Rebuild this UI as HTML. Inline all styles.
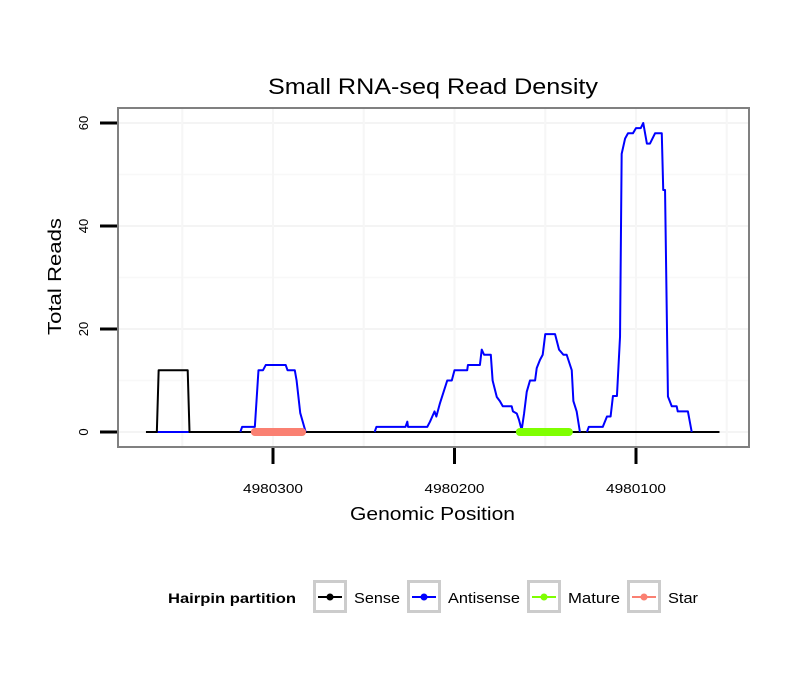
<!DOCTYPE html>
<html><head><meta charset="utf-8"><style>
body{margin:0;background:#fff;}
svg text{font-family:"Liberation Sans",sans-serif;}
</style></head><body>
<svg id="chart" width="810" height="690" viewBox="0 0 810 690">
<text x="268" y="94" font-size="22" textLength="330" lengthAdjust="spacingAndGlyphs">Small RNA-seq Read Density</text>
<g id="grid"></g>
<g id="series"></g>
<rect x="118" y="108" width="631" height="339" fill="none" stroke="#808080" stroke-width="2"/>
<g id="axes"></g>
<text x="350" y="520" font-size="18" textLength="165" lengthAdjust="spacingAndGlyphs">Genomic Position</text>
<text transform="translate(61,335) rotate(-90)" font-size="18" textLength="117" lengthAdjust="spacingAndGlyphs">Total Reads</text>
<g>
<text x="168" y="603" font-size="14" font-weight="bold" textLength="128" lengthAdjust="spacingAndGlyphs">Hairpin partition</text>
<g id="legend-items"></g>
</g>
</svg>
<script>
const BASE = 4980000;
const yTicks = [0, 20, 40, 60];
const xTicks = [4980300, 4980200, 4980100];
const xTickLabels = ["4980300", "4980200", "4980100"];
const senseOffsets = [370, 364, 363, 347, 346, 54];
const senseValues  = [0, 0, 12, 12, 0, 0];
const antiSeg1Offsets = [364, 346];
const antiSeg1Values  = [0, 0];
const antiSeg2Offsets = [318,317,310,308,305.5,304,293,292,288,287,285,282];
const antiSeg2Values  = [0,1,1,12,12,13,13,12,12,10,3.7,0];
const antiSeg3Offsets = [244,243,227,226,225.6,215,213.5,211,210,208,204,201.5,200,193,192.6,186,185,183.7,180,179,176.7,175,173.4,168.5,167.8,165.7,164.5,163,161.7,160.2,158.4,155.6,154.7,152.9,151.4,150,144.6,142.4,140,138.2,135.4,134.5,132.7,130.9];
const antiSeg3Values  = [0,1,1,2,1,1,2,4,3,5.6,10,10,12,12,13,13,16,15,15,10,6.8,6,5,5,4,3.6,2.4,0.4,3.5,7.8,10,10,12.4,14,15,19,19,16,15,15,12,6,4,0];
const antiSeg4Offsets = [127,126,118.3,116,114,112.7,110.5,108.8,107.9,106,104.4,101.7,100,97.4,96,94,92.3,89.5,85.8,85,84,82.4,80.3,77.6,77,71.4,69.3];
const antiSeg4Values  = [0,1,1,3,3,7,7,18.5,54,57,58,58,59,59,60,56,56,58,58,47,47,6.9,5,5,4,4,0];
const matureRange = [164, 137];
const starRange = [310, 284];
const legendLabels = ["Sense","Antisense","Mature","Star"];
const legendColors = ["#000000","#0000ff","#7fff00","#fa8072"];

const NS = "http://www.w3.org/2000/svg";
function xs(pos){ return 273 + (4980300 - pos) * 1.815; }
function ys(v){ return 432 - v * 5.15; }
function mk(tag, attrs, parent){ const e=document.createElementNS(NS,tag); for(const k in attrs) e.setAttribute(k,attrs[k]); parent.appendChild(e); return e; }

const grid = document.getElementById('grid');
for (let i=0;i<yTicks.length;i++){
  const v=yTicks[i];
  const l=mk('line',{x1:118,x2:749,y1:ys(v),y2:ys(v),stroke:'#f4f4f4','stroke-width':2},grid);
  
  
  if(i<yTicks.length-1){ const m=(v+yTicks[i+1])/2;
    const l2=mk('line',{x1:118,x2:749,y1:ys(m),y2:ys(m),stroke:'#f8f8f8','stroke-width':1.5},grid);
    
     }
}
const stepX = xTicks[0]-xTicks[1];
const xGridAll = [xTicks[0]+stepX/2].concat(xTicks.flatMap(t=>[t, t-stepX/2]));
xGridAll.forEach(t=>{
  const px=xs(t); if(px<118||px>749) return;
  const l=mk('line',{x1:px,x2:px,y1:108,y2:447,stroke:'#f6f6f6','stroke-width':2},grid);
  
  
});

const axes = document.getElementById('axes');
yTicks.forEach(v=>{
  const t=mk('line',{x1:100,x2:117,y1:ys(v),y2:ys(v),stroke:'#000','stroke-width':3},axes);
  
  
  const tx=mk('text',{transform:`translate(${88},${ys(v)}) rotate(-90)`,'font-size':13,'text-anchor':'middle'},axes);
  tx.textContent=String(v);
  
  
});
xTicks.forEach((p,i)=>{
  const t=mk('line',{x1:xs(p),x2:xs(p),y1:448,y2:464,stroke:'#000','stroke-width':3},axes);
  
  
  const tx=mk('text',{x:xs(p)-30,y:493,'font-size':13,textLength:60,lengthAdjust:'spacingAndGlyphs'},axes);
  tx.textContent=xTickLabels[i];
  
  
});

const series=document.getElementById('series');
function line(offs, vals, color, name){
  const pts=offs.map((o,i)=>xs(BASE+o)+','+ys(vals[i])).join(' ');
  const p=mk('polyline',{points:pts,fill:'none',stroke:color,'stroke-width':2,'stroke-linejoin':'round'},series);
  
  
}
line(antiSeg1Offsets,antiSeg1Values,'#0000ff','antisense-line-1');
line(senseOffsets,senseValues,'#000000','sense-line');
line(antiSeg2Offsets,antiSeg2Values,'#0000ff','antisense-line-2');
line(antiSeg3Offsets,antiSeg3Values,'#0000ff','antisense-line-3');
line(antiSeg4Offsets,antiSeg4Values,'#0000ff','antisense-line-4');
const mat=mk('line',{x1:xs(BASE+matureRange[0]),x2:xs(BASE+matureRange[1]),y1:ys(0),y2:ys(0),stroke:'#7fff00','stroke-width':8,'stroke-linecap':'round'},series);


const star=mk('line',{x1:xs(BASE+starRange[0]),x2:xs(BASE+starRange[1]),y1:ys(0),y2:ys(0),stroke:'#fa8072','stroke-width':8,'stroke-linecap':'round'},series);



const lg=document.getElementById('legend-items');
const boxX=[313,407,527,627], labX=[354,448,568,668], labW=[46,72,52,30];
legendLabels.forEach((lab,i)=>{
  const g=mk('g',{},lg);
  
  
  mk('rect',{x:boxX[i]+1.5,y:581.5,width:31,height:30,fill:'#fff',stroke:'#cccccc','stroke-width':3},g);
  mk('line',{x1:boxX[i]+5,x2:boxX[i]+29,y1:597,y2:597,stroke:legendColors[i],'stroke-width':2},g);
  mk('circle',{cx:boxX[i]+17,cy:597,r:3.5,fill:legendColors[i]},g);
  const t=mk('text',{x:labX[i],y:603,'font-size':15,textLength:labW[i],lengthAdjust:'spacingAndGlyphs'},g);
  t.textContent=lab;
});
</script>
</body></html>
